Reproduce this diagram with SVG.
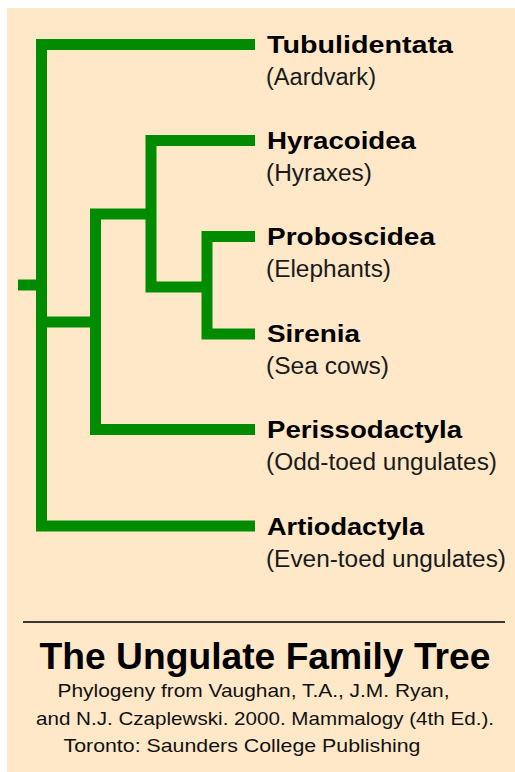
<svg xmlns="http://www.w3.org/2000/svg" width="515" height="772" viewBox="0 0 515 772">
<style>
.br{fill:none;stroke:#008c00;stroke-width:11;stroke-linecap:butt;stroke-linejoin:miter}
.nm{font-family:"Liberation Sans",Arial,sans-serif;font-weight:bold;font-size:24px;fill:#000}
.cm{font-family:"Liberation Sans",Arial,sans-serif;font-size:23px;fill:#1a1a1a}
.ti{font-family:"Liberation Sans",Arial,sans-serif;font-weight:bold;font-size:37px;fill:#000}
.ci{font-family:"Liberation Sans",Arial,sans-serif;font-size:19px;fill:#111}
</style>
<rect x="0" y="0" width="515" height="772" fill="#ffffff"/>
<rect x="7" y="8" width="508" height="764" fill="#ffe8c8"/>
<g id="connectors">
<path class="br" d="M18,285 H41.5"/>
<path class="br" d="M255,44.5 H41.5 V526 H255"/>
<path class="br" d="M41.5,322 H95.5"/>
<path class="br" d="M151,214 H95.5 V429.5 H255"/>
<path class="br" d="M255,140.5 H151 V287 H207"/>
<path class="br" d="M255,236.5 H207 V334 H255"/>
</g>
<g id="tubulidentata">
<text class="nm" x="267" y="53" textLength="186" lengthAdjust="spacingAndGlyphs">Tubulidentata</text>
<text class="cm" x="266" y="85" textLength="110" lengthAdjust="spacingAndGlyphs">(Aardvark)</text>
</g>
<g id="hyracoidea">
<text class="nm" x="267" y="149" textLength="149" lengthAdjust="spacingAndGlyphs">Hyracoidea</text>
<text class="cm" x="266" y="181" textLength="106" lengthAdjust="spacingAndGlyphs">(Hyraxes)</text>
</g>
<g id="proboscidea">
<text class="nm" x="267" y="245" textLength="168" lengthAdjust="spacingAndGlyphs">Proboscidea</text>
<text class="cm" x="266" y="277" textLength="125" lengthAdjust="spacingAndGlyphs">(Elephants)</text>
</g>
<g id="sirenia">
<text class="nm" x="267" y="342" textLength="93" lengthAdjust="spacingAndGlyphs">Sirenia</text>
<text class="cm" x="266" y="374" textLength="123" lengthAdjust="spacingAndGlyphs">(Sea cows)</text>
</g>
<g id="perissodactyla">
<text class="nm" x="267" y="438" textLength="195" lengthAdjust="spacingAndGlyphs">Perissodactyla</text>
<text class="cm" x="266" y="470" textLength="231" lengthAdjust="spacingAndGlyphs">(Odd-toed ungulates)</text>
</g>
<g id="artiodactyla">
<text class="nm" x="267" y="535" textLength="157" lengthAdjust="spacingAndGlyphs">Artiodactyla</text>
<text class="cm" x="266" y="567" textLength="240" lengthAdjust="spacingAndGlyphs">(Even-toed ungulates)</text>
</g>
<g id="caption">
<line x1="23" y1="622" x2="505" y2="622" stroke="#3a3a32" stroke-width="2"/>
<text class="ti" x="39.5" y="669" textLength="451" lengthAdjust="spacingAndGlyphs">The Ungulate Family Tree</text>
<text class="ci" x="57.5" y="697" textLength="392" lengthAdjust="spacingAndGlyphs">Phylogeny from Vaughan, T.A., J.M. Ryan,</text>
<text class="ci" x="36" y="725" textLength="458" lengthAdjust="spacingAndGlyphs">and N.J. Czaplewski. 2000. Mammalogy (4th Ed.).</text>
<text class="ci" x="63.5" y="752" textLength="357" lengthAdjust="spacingAndGlyphs">Toronto: Saunders College Publishing</text>
</g>
</svg>
